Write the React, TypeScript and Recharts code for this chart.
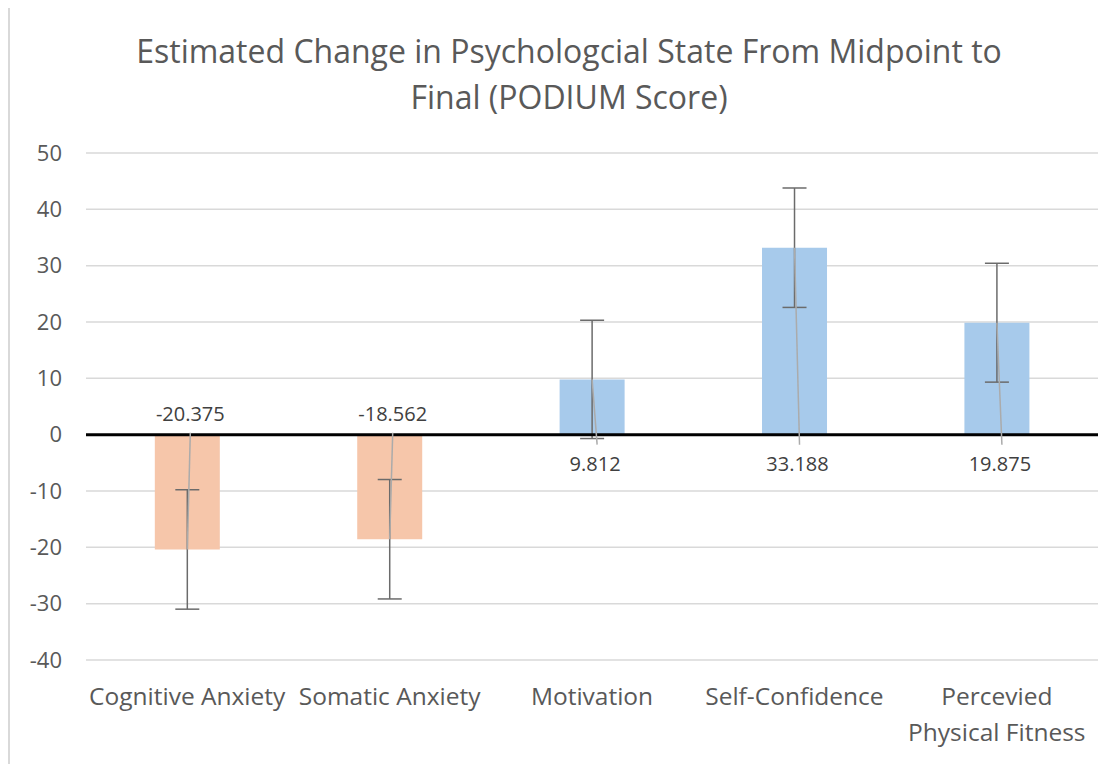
import React from "react";
import { BarChart, Bar, XAxis, YAxis, CartesianGrid, ErrorBar, Cell, ReferenceLine, LabelList } from "recharts";

const categories = ["Cognitive Anxiety", "Somatic Anxiety", "Motivation", "Self-Confidence", "Percevied Physical Fitness"];
const changeValues = [-20.375, -18.562, 9.812, 33.188, 19.875];
const errorValues = [10.6, 10.6, 10.5, 10.6, 10.55];
const yTicks = [-40, -30, -20, -10, 0, 10, 20, 30, 40, 50];
const titleLines = ["Estimated Change in Psychologcial State From Midpoint to", "Final (PODIUM Score)"];

const data = categories.map((c, i) => ({ name: c, value: changeValues[i], err: errorValues[i] }));

const FONT = "'Open Sans', 'Noto Sans', sans-serif";
const ORANGE = "#F6C6AA";
const BLUE = "#A7CAEB";

const XTick = (props: any) => {
  const { x, y, payload } = props;
  const label: string = payload.value;
  let lines = [label];
  if (label.length > 20) {
    const idx = label.indexOf(" ");
    lines = [label.slice(0, idx), label.slice(idx + 1)];
  }
  return (
    <g>
      {lines.map((l, i) => (
        <text key={i} x={x} y={y + 37 + i * 36} textAnchor="middle" fill="#595959" fontSize={24.5} fontFamily={FONT}>
          {l}
        </text>
      ))}
    </g>
  );
};

const ValueLabel = (props: any) => {
  const { x, y, width, height, value } = props;
  const cx = x + width / 2;
  const top = Math.min(y, y + height);
  const bottom = Math.max(y, y + height);
  const neg = value < 0;
  const zeroY = neg ? top : bottom;
  const endY = neg ? bottom : top;
  return (
    <g>
      <line x1={neg ? cx + 3 : cx + 5} y1={neg ? zeroY - 2 : zeroY + 10} x2={cx} y2={endY} stroke="#ababab" strokeWidth={1.5} />
      <text x={cx + 3} y={neg ? zeroY - 14 : zeroY + 36} textAnchor="middle" fill="#404040" fontSize={20} fontFamily={FONT}>
        {value}
      </text>
    </g>
  );
};

export default function App() {
  return (
    <div style={{ width: 1100, height: 756, position: "relative", borderLeft: "2px solid #d9d9d9", boxSizing: "border-box" }}>
      <svg width={1100} height={120} style={{ position: "absolute", left: 0, top: 0 }}>
        {titleLines.map((t, i) => (
          <text key={i} x={559} y={55 + i * 46} textAnchor="middle" fill="#595959" fontSize={32} fontFamily={FONT}>
            {t}
          </text>
        ))}
      </svg>
      <BarChart width={1098} height={756} data={data} margin={{ top: 145, right: 10, bottom: 0, left: 0 }} barCategoryGap="34%">
        <CartesianGrid vertical={false} stroke="#d9d9d9" strokeWidth={1.5} />
        <XAxis dataKey="name" axisLine={false} tickLine={false} height={104} tick={<XTick />} interval={0} />
        <YAxis
          width={76}
          domain={[-40, 50]}
          ticks={yTicks}
          axisLine={false}
          tickLine={false}
          tickSize={0}
          tickMargin={24}
          tick={{ fill: "#595959", fontSize: 22, fontFamily: FONT }}
        />
        <Bar dataKey="value" isAnimationActive={false}>
          {data.map((d, i) => (
            <Cell key={i} fill={d.value < 0 ? ORANGE : BLUE} />
          ))}
          <ErrorBar dataKey="err" width={12} stroke="#6b6b6b" strokeWidth={1.5} />
          <LabelList dataKey="value" content={<ValueLabel />} />
        </Bar>
        <ReferenceLine y={0} stroke="#000" strokeWidth={3} />
      </BarChart>
    </div>
  );
}
